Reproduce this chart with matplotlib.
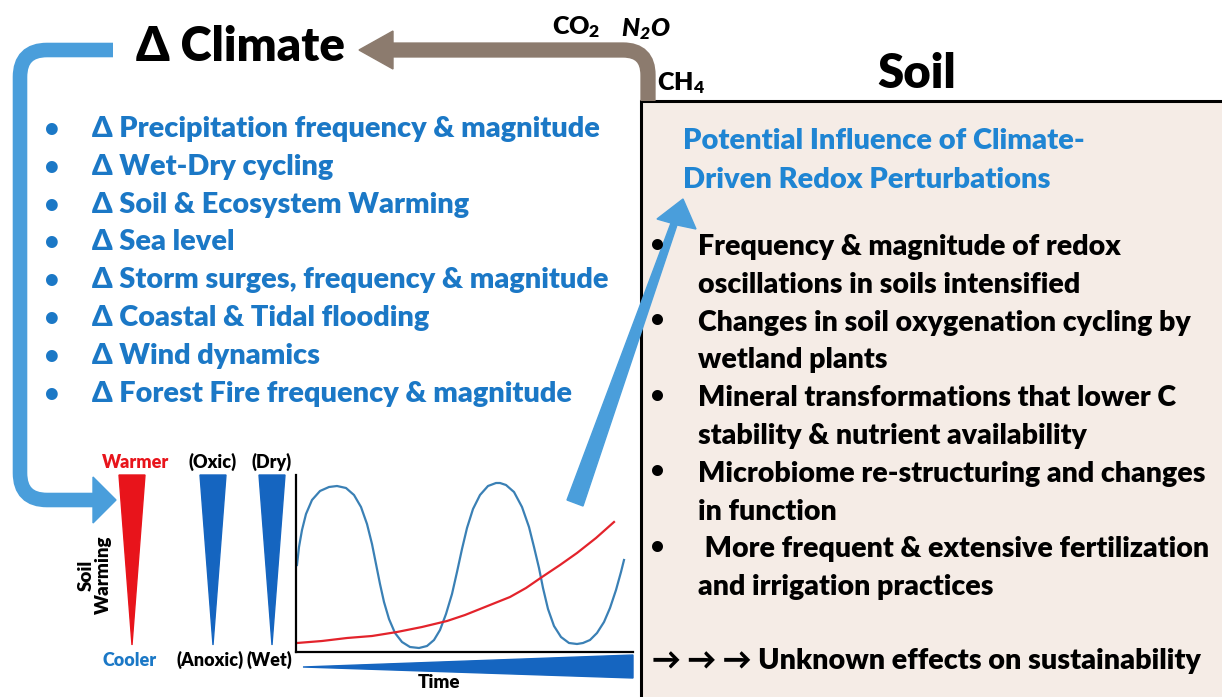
import matplotlib
matplotlib.use("Agg")
import matplotlib.pyplot as plt
from matplotlib.path import Path
from matplotlib.patches import PathPatch, Polygon, Rectangle

plt.rcParams["font.family"] = ["Lato", "DejaVu Sans"]
plt.rcParams["font.weight"] = "heavy"
plt.rcParams["mathtext.default"] = "regular"

# ---- text content ----
climate_items = [
    "Δ Precipitation frequency & magnitude",
    "Δ Wet-Dry cycling",
    "Δ Soil & Ecosystem Warming",
    "Δ Sea level",
    "Δ Storm surges, frequency & magnitude",
    "Δ Coastal & Tidal flooding",
    "Δ Wind dynamics",
    "Δ Forest Fire frequency & magnitude",
]
soil_heading = ["Potential Influence of Climate-", "Driven Redox Perturbations"]
soil_items = [
    ["Frequency & magnitude of redox", "oscillations in soils intensified"],
    ["Changes in soil oxygenation cycling by", "wetland plants"],
    ["Mineral transformations that lower C", "stability & nutrient availability"],
    ["Microbiome re-structuring and changes", "in function"],
    [" More frequent & extensive fertilization", "and irrigation practices"],
]
soil_footer = "→ → → Unknown effects on sustainability"
wedge_top = ["Warmer", "(Oxic)", "(Dry)"]
wedge_bottom = ["Cooler", "(Anoxic)", "(Wet)"]

# ---- inset curves (time units / level units) ----
redox_t = [1, 3, 6, 10, 16, 24, 33, 41, 50, 58, 65, 71, 76, 80, 84, 88, 93, 99, 106, 114,
           123, 131, 138, 144, 150, 156, 161, 166, 171, 177, 184, 192, 200, 204, 210, 218,
           226, 233, 238, 243, 247, 252, 258, 265, 273, 281, 287, 294, 301, 308, 314, 320,
           325, 328]
redox_level = [87, 105, 122, 138, 152, 161, 165, 166, 164, 157, 145, 128, 108, 88, 68, 50,
               33, 19, 10, 5, 4, 6, 12, 22, 38, 58, 80, 103, 124, 143, 157, 166, 169, 169,
               167, 160, 145, 125, 105, 84, 64, 43, 26, 15, 9, 8, 9, 12, 19, 30, 44, 62,
               80, 92]
temp_t = [1, 26, 51, 76, 101, 126, 151, 169, 184, 199, 214, 230, 246, 264, 281, 300, 318]
temp_level = [9, 11, 14, 16, 20, 25, 31, 37, 43, 49, 55, 64, 75, 87, 99, 114, 130]

BLUE_TXT = "#1b78c6"
LIGHT_BLUE = "#4a9edb"
DARK_BLUE = "#1565c0"
BROWN = "#8c7b6e"
RED = "#e8141b"

fig = plt.figure(figsize=(12.22, 6.97), dpi=100)
ax = fig.add_axes([0, 0, 1, 1])
ax.set_xlim(0, 1222)
ax.set_ylim(697, 0)
ax.axis("off")

# right soil box
ax.add_patch(Rectangle((641, 101), 590, 610, facecolor="#f5ece6", edgecolor="black", lw=2.2))

# feedback arrow (light blue) down the left side
blue_path = Path(
    [(113, 50), (47, 50), (20, 50), (20, 77), (20, 473), (20, 500), (47, 500), (94, 500)],
    [Path.MOVETO, Path.LINETO, Path.CURVE3, Path.CURVE3, Path.LINETO, Path.CURVE3, Path.CURVE3, Path.LINETO],
)
ax.add_patch(PathPatch(blue_path, fill=False, edgecolor=LIGHT_BLUE, lw=10.5, capstyle="butt"))
ax.add_patch(Polygon([(93, 477), (116, 500), (93, 523)], color=LIGHT_BLUE))

# greenhouse gas arrow (brown)
brown_path = Path(
    [(648, 101), (648, 75), (648, 50), (623, 50), (390, 50)],
    [Path.MOVETO, Path.LINETO, Path.CURVE3, Path.CURVE3, Path.LINETO],
)
ax.add_patch(PathPatch(brown_path, fill=False, edgecolor=BROWN, lw=11, capstyle="butt"))
ax.add_patch(Polygon([(393, 31), (359, 50), (393, 69)], color=BROWN))

# diagonal arrow into soil box
ax.add_patch(Polygon([(567, 500), (583, 506), (677, 225), (696, 229), (683, 199),
                      (657, 219), (671, 223)], color=LIGHT_BLUE))

# titles
ax.text(240, 47, "Δ Climate", fontsize=34, ha="center", va="center", color="black")
ax.text(917, 74, "Soil", fontsize=34, ha="center", va="center", color="black")
ax.text(552, 27, "CO$_2$", fontsize=18, ha="left", va="center")
ax.text(621, 29, "N$_2$O", fontsize=18, ha="left", va="center", style="italic")
ax.text(657, 83, "CH$_4$", fontsize=18, ha="left", va="center")

# climate list
for i, item in enumerate(climate_items):
    y = 129 + i * 37.8
    ax.text(52, y, "•", fontsize=17, ha="center", va="center", color=BLUE_TXT)
    ax.text(92, y, item, fontsize=20.8, ha="left", va="center", color=BLUE_TXT)

# soil heading and bullets
for i, line in enumerate(soil_heading):
    ax.text(683, 141 + i * 39, line, fontsize=21, ha="left", va="center", color="#1f85d3")
y = 247
for lines in soil_items:
    ax.text(657, y - 3, "•", fontsize=16, ha="center", va="center")
    for line in lines:
        ax.text(698, y, line, fontsize=20.5, ha="left", va="center")
        y += 37.8
ax.text(652, 661, soil_footer, fontsize=20.7, ha="left", va="center")

# wedges
wedge_x = [132, 213, 272]
wedge_colors = [RED, DARK_BLUE, DARK_BLUE]
for x, c, top, bot in zip(wedge_x, wedge_colors, wedge_top, wedge_bottom):
    ax.add_patch(Polygon([(x - 13, 475), (x + 13, 475), (x, 645)], color=c))
    ax.text(x + (4 if c == RED else 0), 462, top, fontsize=13, ha="center", va="center",
            color=RED if c == RED else "black")
    ax.text(x - (2 if c == RED else 3), 660, bot, fontsize=13, ha="center", va="center",
            color=BLUE_TXT if c == RED else "black")
ax.text(95, 575, "Soil\nWarming", fontsize=13.5, ha="center", va="center", rotation=90,
        linespacing=1.05)

# inset time chart
inset = fig.add_axes([296 / 1222, 1 - 652 / 697, 337 / 1222, 177 / 697])
inset.set_xlim(0, 337)
inset.set_ylim(0, 177)
inset.patch.set_alpha(0)
for s in ["top", "right"]:
    inset.spines[s].set_visible(False)
for s in ["left", "bottom"]:
    inset.spines[s].set_linewidth(1.6)
inset.set_xticks([])
inset.set_yticks([])
inset.plot(redox_t, redox_level, color="#3a80b5", lw=1.6, solid_joinstyle="round")
inset.plot(temp_t, temp_level, color="#e3232b", lw=1.6, solid_joinstyle="round")
inset.add_patch(Polygon([(7, -15), (337, -3), (337, -26)], color=DARK_BLUE, clip_on=False))
inset.text(143, -31, "Time", fontsize=13.5, ha="center", va="center")

fig.savefig("out.png", dpi=100)
